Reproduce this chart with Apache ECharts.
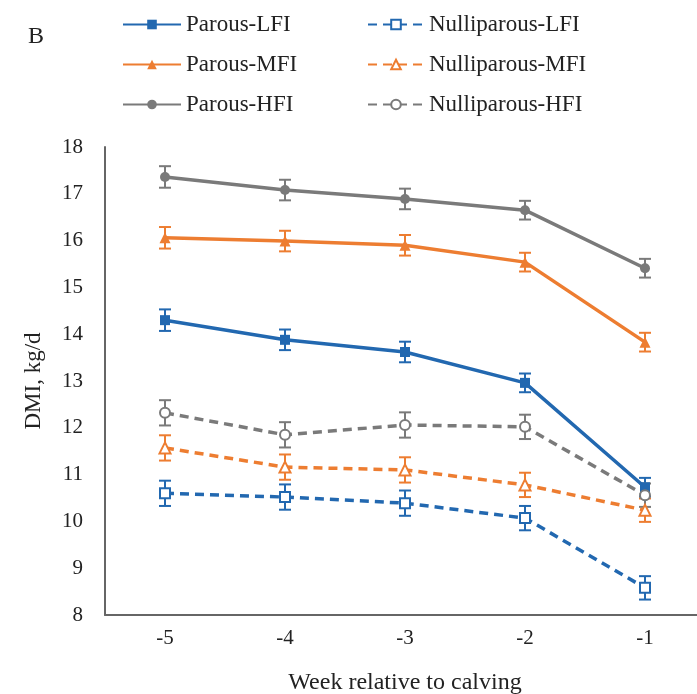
<!DOCTYPE html>
<html>
<head>
<meta charset="utf-8">
<script src="https://cdn.jsdelivr.net/npm/echarts@6/dist/echarts.min.js"></script>
<style>
  html, body { margin: 0; padding: 0; background: #fff; }
  #main { width: 697px; height: 694px; }
</style>
</head>
<body>
<div id="main"></div>
<script>
var weeks = ['-5', '-4', '-3', '-2', '-1']

var parousLFI = [14.3, 13.88, 13.62, 12.96, 10.73]
var parousMFI = [16.06, 15.99, 15.9, 15.54, 13.83]
var parousHFI = [17.36, 17.08, 16.89, 16.65, 15.41]
var nulliLFI = [10.6, 10.52, 10.39, 10.07, 8.58]
var nulliMFI = [11.57, 11.16, 11.1, 10.78, 10.24]
var nulliHFI = [12.32, 11.85, 12.06, 12.02, 10.56]

// standard errors (half length of the error bars)
var seParous = [0.23, 0.22, 0.22, 0.2, 0.2]
var seNulli = [0.27, 0.27, 0.27, 0.26, 0.25]

var blue = '#2268b0'
var orange = '#ed7d31'
var gray = '#7a7a7a'
var font = '"Liberation Serif", "Times New Roman", serif'

var myChart = echarts.init(document.getElementById('main'))

function lineSeries(name, values, color, symbol, dashed) {
  return {
    name: name,
    type: 'line',
    data: values,
    symbol: symbol,
    symbolSize: symbol == 'triangle' ? 11 : 10,
    z: 3,
    itemStyle: dashed ? { color: '#fff', borderColor: color, borderWidth: 2 } : { color: color },
    lineStyle: { color: color, width: 3.5, type: dashed ? [9, 6] : 'solid' }
  }
}

function errorSeries(values, se, color) {
  var data = []
  values.forEach(function(v, i) {
    data.push([i, v - se[i], v + se[i]])
  })
  return {
    type: 'custom',
    z: 2,
    silent: true,
    data: data,
    renderItem: function(params, api) {
      var lo = api.coord([api.value(0), api.value(1)])
      var hi = api.coord([api.value(0), api.value(2)])
      var w = 6
      var style = { stroke: color, lineWidth: 2 }
      return {
        type: 'group',
        children: [
          { type: 'line', shape: { x1: lo[0], y1: lo[1], x2: hi[0], y2: hi[1] }, style: style },
          { type: 'line', shape: { x1: lo[0] - w, y1: lo[1], x2: lo[0] + w, y2: lo[1] }, style: style },
          { type: 'line', shape: { x1: hi[0] - w, y1: hi[1], x2: hi[0] + w, y2: hi[1] }, style: style }
        ]
      }
    }
  }
}

var legendText = { fontFamily: font, fontSize: 23, color: '#222' }

var option = {
  backgroundColor: '#fff',
  animation: false,
  title: {
    text: 'B',
    left: 23,
    top: 20,
    textStyle: { fontFamily: font, fontSize: 24, fontWeight: 'normal', color: '#222' }
  },
  legend: [{
    data: ['Parous-LFI', 'Parous-MFI', 'Parous-HFI'],
    orient: 'vertical',
    left: 117,
    top: 8,
    itemWidth: 58,
    itemHeight: 12,
    itemGap: 17,
    textStyle: legendText
  }, {
    data: ['Nulliparous-LFI', 'Nulliparous-MFI', 'Nulliparous-HFI'],
    orient: 'vertical',
    left: 362,
    top: 8,
    itemWidth: 56,
    itemHeight: 12,
    itemGap: 17,
    textStyle: legendText
  }],
  grid: { left: 105, top: 147, width: 600, height: 468, outerBoundsMode: 'none' },
  xAxis: {
    type: 'category',
    data: weeks,
    name: 'Week relative to calving',
    nameLocation: 'middle',
    nameGap: 56,
    nameTextStyle: { fontFamily: font, fontSize: 24, color: '#222' },
    axisLine: { lineStyle: { color: '#666', width: 2 } },
    axisTick: { show: false },
    axisLabel: { fontFamily: font, fontSize: 21, color: '#222', margin: 13 }
  },
  yAxis: {
    type: 'value',
    min: 8,
    max: 18,
    interval: 1,
    name: 'DMI, kg/d',
    nameLocation: 'middle',
    nameGap: 60,
    nameTextStyle: { fontFamily: font, fontSize: 23, color: '#222' },
    axisLine: { show: true, lineStyle: { color: '#666', width: 2 } },
    axisTick: { show: false },
    splitLine: { show: false },
    axisLabel: { fontFamily: font, fontSize: 21, color: '#222', margin: 22 }
  },
  series: [
    errorSeries(parousLFI, seParous, blue),
    errorSeries(parousMFI, seParous, orange),
    errorSeries(parousHFI, seParous, gray),
    errorSeries(nulliLFI, seNulli, blue),
    errorSeries(nulliMFI, seNulli, orange),
    errorSeries(nulliHFI, seNulli, gray),
    lineSeries('Parous-LFI', parousLFI, blue, 'rect', false),
    lineSeries('Parous-MFI', parousMFI, orange, 'triangle', false),
    lineSeries('Parous-HFI', parousHFI, gray, 'circle', false),
    lineSeries('Nulliparous-LFI', nulliLFI, blue, 'rect', true),
    lineSeries('Nulliparous-MFI', nulliMFI, orange, 'triangle', true),
    lineSeries('Nulliparous-HFI', nulliHFI, gray, 'circle', true)
  ]
}

myChart.setOption(option)
</script>
</body>
</html>
